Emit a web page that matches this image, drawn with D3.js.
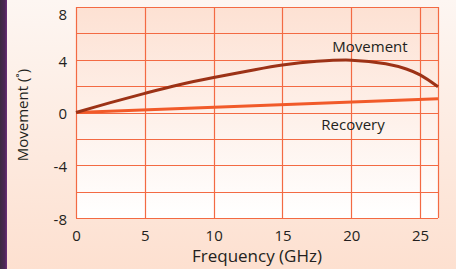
<!DOCTYPE html>
<html>
<head>
<meta charset="utf-8">
<script src="https://cdn.jsdelivr.net/npm/d3@7"></script>
<style>
  html, body { margin: 0; padding: 0; }
  body { width: 456px; height: 269px; overflow: hidden; }
  text { font-family: "Open Sans", sans-serif; fill: #231f20; }
</style>
</head>
<body>
<div class="chart"></div>
<script>
// values
var movementFreq  = [0, 2.5, 5, 7.5, 10, 12.5, 15, 17.5, 20, 22.5, 24, 25, 26.3];
var movementValue = [0, 0.75, 1.45, 2.1, 2.65, 3.15, 3.6, 3.88, 3.97, 3.7, 3.3, 2.85, 1.95];
var recoveryFreq  = [0, 26.3];
var recoveryValue = [0, 1.05];
var xTicks = [0, 5, 10, 15, 20, 25];
var yTicks = [-8, -4, 0, 4, 8];
var yGrid  = [-8, -6, -4, -2, 0, 2, 4, 6, 8];

var w = 456, h = 269;
var margin = {top: 7, right: 18, bottom: 51, left: 76};

var svg = d3.select("div.chart")
  .append("svg")
  .attr("width", w)
  .attr("height", h);

var defs = svg.append("defs");

//page background, peach getting stronger towards the bottom
var bg = defs.append("linearGradient").attr("id", "bg").attr("x1", 0).attr("y1", 0).attr("x2", 0).attr("y2", 1);
bg.append("stop").attr("offset", "0%").attr("stop-color", "#fdf6f2");
bg.append("stop").attr("offset", "100%").attr("stop-color", "#fde0d0");

//plot area, peach at top fading to white
var plotBg = defs.append("linearGradient").attr("id", "plotBg").attr("x1", 0).attr("y1", 0).attr("x2", 0).attr("y2", 1);
plotBg.append("stop").attr("offset", "0%").attr("stop-color", "#fde1d3");
plotBg.append("stop").attr("offset", "100%").attr("stop-color", "#ffffff");

//purple strip on the left
var strip = defs.append("linearGradient").attr("id", "strip").attr("x1", 0).attr("y1", 0).attr("x2", 1).attr("y2", 0);
strip.append("stop").attr("offset", "0%").attr("stop-color", "#3b2a40");
strip.append("stop").attr("offset", "70%").attr("stop-color", "#4d2656");
strip.append("stop").attr("offset", "100%").attr("stop-color", "#6e2f7c");

svg.append("rect").attr("width", w).attr("height", h).attr("fill", "url(#bg)");
svg.append("rect").attr("width", 7).attr("height", h).attr("fill", "url(#strip)");

var x = d3.scaleLinear().domain([0, 26.3]).range([margin.left, w - margin.right]);
var y = d3.scaleLinear().domain([-8, 8]).range([h - margin.bottom, margin.top]);

svg.append("rect")
  .attr("x", x(0)).attr("y", y(8))
  .attr("width", x(26.3) - x(0)).attr("height", y(-8) - y(8))
  .attr("fill", "url(#plotBg)");

var gridColor = "#f36a43";

//grid lines
svg.append("g").selectAll("line").data(yGrid).join("line")
  .attr("x1", x(0)).attr("x2", x(26.3))
  .attr("y1", d => Math.round(y(d)) + 0.5).attr("y2", d => Math.round(y(d)) + 0.5)
  .attr("stroke", gridColor).attr("stroke-width", 1.2);

svg.append("g").selectAll("line").data(xTicks.concat([26.3])).join("line")
  .attr("x1", d => Math.round(x(d)) + 0.5).attr("x2", d => Math.round(x(d)) + 0.5)
  .attr("y1", y(8)).attr("y2", y(-8))
  .attr("stroke", gridColor).attr("stroke-width", 1.2);

//axes, only the labels are shown
var xAxis = svg.append("g")
  .attr("transform", `translate(0,${y(-8)})`)
  .call(d3.axisBottom(x).tickValues(xTicks).tickSize(0).tickPadding(12));
xAxis.select(".domain").remove();
xAxis.selectAll("text").style("font-size", "15px").style("font-family", "Open Sans, sans-serif").attr("fill", "#231f20");

var yAxis = svg.append("g")
  .attr("transform", `translate(${x(0)},0)`)
  .call(d3.axisLeft(y).tickValues(yTicks).tickSize(0).tickPadding(9).tickFormat(d => String(d)));
yAxis.select(".domain").remove();
yAxis.selectAll("text")
  .style("font-size", "15px").style("font-family", "Open Sans, sans-serif").attr("fill", "#231f20")
  .attr("dy", d => d === 8 ? "0.85em" : "0.42em");

//data lines
var movement = movementFreq.map((f, i) => [f, movementValue[i]]);
var recovery = recoveryFreq.map((f, i) => [f, recoveryValue[i]]);

var line = d3.line()
  .x(d => x(d[0]))
  .y(d => y(d[1]))
  .curve(d3.curveCatmullRom);

svg.append("path").datum(recovery)
  .attr("d", line)
  .attr("fill", "none")
  .attr("stroke", "#f15a29")
  .attr("stroke-width", 3);

svg.append("path").datum(movement)
  .attr("d", line)
  .attr("fill", "none")
  .attr("stroke", "#9c3216")
  .attr("stroke-width", 3);

//labels
svg.append("text")
  .attr("x", 370).attr("y", 52)
  .attr("text-anchor", "middle")
  .style("font-size", "15px")
  .text("Movement");

svg.append("text")
  .attr("x", 353).attr("y", 130)
  .attr("text-anchor", "middle")
  .style("font-size", "15px")
  .text("Recovery");

svg.append("text")
  .attr("x", (x(0) + x(26.3)) / 2)
  .attr("y", 262)
  .attr("text-anchor", "middle")
  .style("font-size", "17px")
  .text("Frequency (GHz)");

svg.append("text")
  .attr("transform", `translate(28,${115}) rotate(-90)`)
  .attr("text-anchor", "middle")
  .style("font-size", "15px")
  .text("Movement (˚)");
</script>
</body>
</html>
